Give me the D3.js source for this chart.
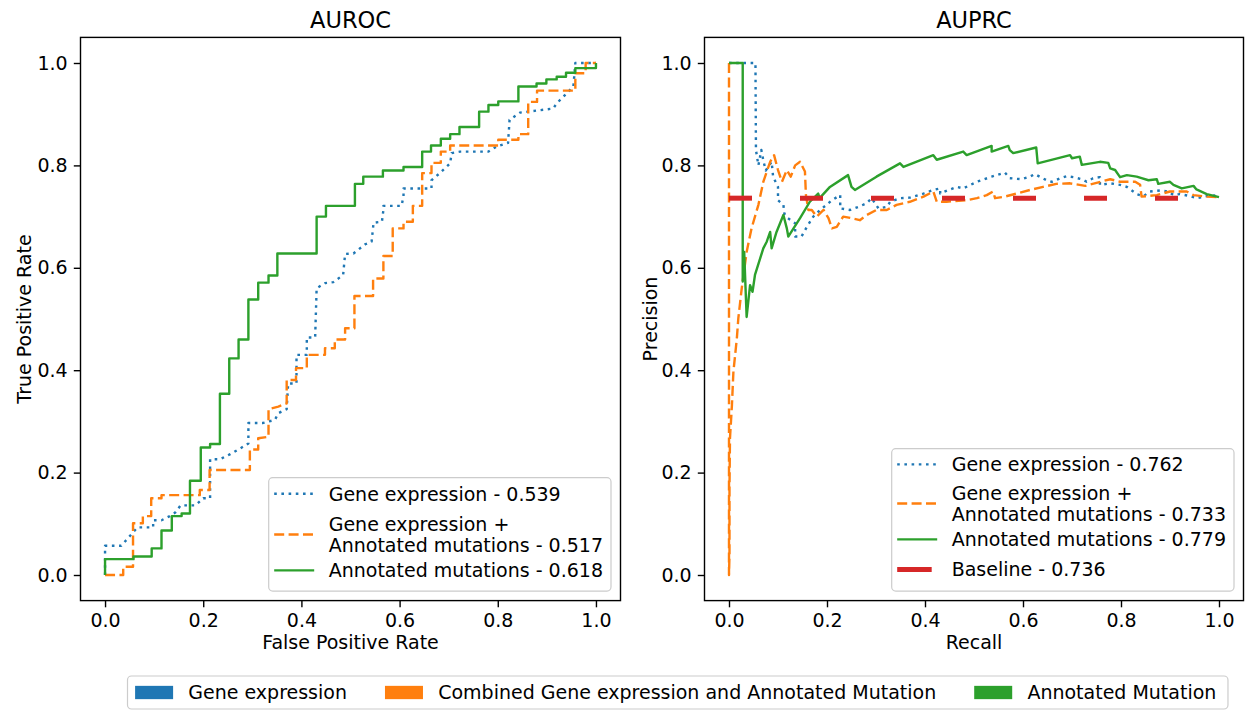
<!DOCTYPE html>
<html>
<head>
<meta charset="utf-8">
<script src="https://cdn.jsdelivr.net/npm/d3@7/dist/d3.min.js"></script>
<style>
  html, body { margin: 0; padding: 0; background: #ffffff; }
  svg { display: block; font-family: "DejaVu Sans", sans-serif; }
</style>
</head>
<body>
<svg id="chart" width="1247" height="711"></svg>
<script>
// ---- ROC curves: [false positive rate, true positive rate] ----
const rocGene = [
  [0,0],[0,0.057],[0.033,0.057],[0.066,0.093],[0.098,0.093],[0.098,0.107],[0.115,0.107],
  [0.132,0.115],[0.143,0.122],[0.154,0.136],[0.184,0.136],[0.2,0.15],[0.214,0.15],[0.214,0.226],
  [0.234,0.226],[0.255,0.236],[0.275,0.247],[0.292,0.257],[0.292,0.297],[0.322,0.297],
  [0.346,0.303],[0.353,0.316],[0.37,0.324],[0.373,0.374],[0.39,0.374],[0.39,0.43],[0.411,0.43],
  [0.411,0.464],[0.428,0.464],[0.431,0.56],[0.448,0.57],[0.465,0.572],[0.485,0.586],[0.489,0.627],
  [0.506,0.628],[0.53,0.646],[0.543,0.651],[0.547,0.688],[0.564,0.69],[0.567,0.713],[0.567,0.721],
  [0.604,0.721],[0.608,0.74],[0.608,0.755],[0.665,0.755],[0.665,0.771],[0.682,0.785],[0.703,0.804],
  [0.706,0.824],[0.723,0.827],[0.781,0.827],[0.798,0.837],[0.821,0.844],[0.824,0.889],[0.845,0.903],
  [0.913,0.911],[0.92,0.921],[0.954,0.954],[0.958,1.0],[1.0,1.0]
];
const rocCombined = [
  [0,0],[0.037,0],[0.037,0.016],[0.057,0.016],[0.057,0.101],[0.077,0.101],[0.077,0.115],
  [0.094,0.115],[0.094,0.15],[0.115,0.15],[0.115,0.156],[0.193,0.156],[0.193,0.166],[0.213,0.166],
  [0.213,0.205],[0.295,0.205],[0.295,0.245],[0.312,0.245],[0.312,0.267],[0.333,0.27],[0.333,0.324],
  [0.353,0.329],[0.37,0.335],[0.37,0.381],[0.389,0.381],[0.389,0.404],[0.411,0.404],[0.411,0.43],
  [0.448,0.43],[0.448,0.443],[0.468,0.443],[0.468,0.46],[0.489,0.46],[0.489,0.482],[0.508,0.482],
  [0.508,0.545],[0.546,0.545],[0.546,0.579],[0.567,0.579],[0.567,0.623],[0.586,0.623],[0.586,0.677],
  [0.608,0.677],[0.608,0.69],[0.627,0.69],[0.627,0.721],[0.646,0.721],[0.646,0.785],[0.665,0.785],
  [0.665,0.805],[0.684,0.805],[0.684,0.827],[0.703,0.827],[0.703,0.839],[0.801,0.839],[0.801,0.85],
  [0.842,0.85],[0.842,0.861],[0.862,0.861],[0.862,0.924],[0.88,0.924],[0.88,0.946],[0.958,0.946],
  [0.958,0.98],[0.979,0.98],[0.979,1.0],[1.0,1.0]
];
const rocMutation = [
  [0,0],[0,0.031],[0.058,0.031],[0.058,0.036],[0.095,0.036],[0.095,0.052],[0.115,0.052],
  [0.115,0.087],[0.136,0.087],[0.136,0.115],[0.156,0.115],[0.156,0.12],[0.173,0.12],[0.173,0.184],
  [0.195,0.184],[0.195,0.249],[0.214,0.249],[0.214,0.256],[0.234,0.256],[0.234,0.354],[0.253,0.354],
  [0.253,0.423],[0.272,0.423],[0.272,0.46],[0.292,0.46],[0.292,0.538],[0.312,0.538],[0.312,0.571],
  [0.333,0.571],[0.333,0.585],[0.351,0.585],[0.351,0.628],[0.431,0.628],[0.431,0.70],[0.45,0.70],
  [0.45,0.721],[0.509,0.721],[0.509,0.764],[0.526,0.764],[0.526,0.778],[0.566,0.778],[0.566,0.79],
  [0.608,0.79],[0.608,0.797],[0.646,0.797],[0.646,0.827],[0.664,0.827],[0.664,0.839],[0.684,0.839],
  [0.684,0.852],[0.703,0.852],[0.703,0.861],[0.722,0.861],[0.722,0.875],[0.762,0.875],[0.762,0.905],
  [0.781,0.905],[0.781,0.918],[0.801,0.918],[0.801,0.925],[0.842,0.925],[0.842,0.954],[0.879,0.954],
  [0.879,0.96],[0.899,0.96],[0.899,0.968],[0.92,0.968],[0.92,0.973],[0.939,0.973],[0.939,0.981],
  [0.958,0.981],[0.958,0.99],[1.0,0.99],[1.0,1.0]
];

// ---- Precision-recall curves: [recall, precision] ----
const prGene = [
  [0,1],[0.054,1],[0.055,0.83],[0.06,0.80],[0.066,0.83],[0.07,0.81],[0.075,0.79],[0.087,0.807],
  [0.09,0.778],[0.1,0.758],[0.1,0.732],[0.111,0.723],[0.113,0.706],[0.12,0.697],[0.135,0.687],
  [0.135,0.661],[0.148,0.661],[0.159,0.68],[0.172,0.70],[0.186,0.713],[0.199,0.723],[0.21,0.732],
  [0.227,0.742],[0.227,0.716],[0.247,0.713],[0.264,0.719],[0.281,0.726],[0.291,0.736],[0.305,0.716],
  [0.322,0.719],[0.329,0.729],[0.349,0.736],[0.369,0.737],[0.397,0.745],[0.417,0.752],[0.431,0.755],
  [0.431,0.745],[0.448,0.752],[0.465,0.758],[0.478,0.755],[0.506,0.768],[0.536,0.778],[0.563,0.786],
  [0.573,0.775],[0.597,0.773],[0.614,0.778],[0.624,0.783],[0.648,0.771],[0.659,0.768],[0.676,0.775],
  [0.689,0.779],[0.703,0.777],[0.72,0.773],[0.73,0.768],[0.743,0.775],[0.757,0.777],[0.757,0.762],
  [0.778,0.765],[0.798,0.762],[0.812,0.758],[0.825,0.749],[0.832,0.744],[0.846,0.74],[0.859,0.749],
  [0.88,0.751],[0.897,0.749],[0.907,0.742],[0.92,0.744],[0.941,0.74],[0.954,0.736],[0.975,0.74],
  [1.0,0.742]
];
const prCombined = [
  [0,1],[0,0],[0.001,0.04],[0.001,0.1],[0.001,0.17],[0.002,0.267],[0.006,0.332],[0.009,0.397],
  [0.016,0.462],[0.019,0.501],[0.026,0.56],[0.036,0.631],[0.046,0.677],[0.06,0.723],[0.07,0.768],
  [0.084,0.807],[0.092,0.82],[0.1,0.791],[0.108,0.768],[0.118,0.791],[0.126,0.778],[0.135,0.80],
  [0.145,0.807],[0.155,0.788],[0.157,0.742],[0.162,0.713],[0.169,0.713],[0.179,0.70],[0.193,0.713],
  [0.203,0.697],[0.21,0.677],[0.22,0.68],[0.233,0.70],[0.25,0.697],[0.267,0.693],[0.281,0.703],
  [0.301,0.713],[0.322,0.713],[0.342,0.723],[0.369,0.729],[0.397,0.739],[0.417,0.749],[0.424,0.729],
  [0.444,0.729],[0.485,0.732],[0.506,0.736],[0.526,0.742],[0.539,0.749],[0.543,0.736],[0.563,0.739],
  [0.587,0.745],[0.614,0.752],[0.641,0.758],[0.668,0.764],[0.696,0.765],[0.727,0.76],[0.75,0.766],
  [0.778,0.773],[0.798,0.768],[0.829,0.768],[0.839,0.762],[0.842,0.739],[0.873,0.742],[0.9,0.749],
  [0.934,0.749],[0.948,0.742],[0.975,0.739],[1.0,0.738]
];
const prMutation = [
  [0,1],[0.028,1],[0.028,0.573],[0.031,0.631],[0.036,0.504],[0.043,0.566],[0.048,0.553],
  [0.053,0.586],[0.07,0.638],[0.077,0.651],[0.084,0.67],[0.087,0.638],[0.097,0.67],[0.111,0.703],
  [0.118,0.677],[0.121,0.661],[0.145,0.697],[0.165,0.729],[0.182,0.745],[0.185,0.736],[0.206,0.758],
  [0.243,0.781],[0.25,0.758],[0.257,0.752],[0.301,0.778],[0.349,0.804],[0.356,0.797],[0.417,0.82],
  [0.424,0.811],[0.478,0.827],[0.485,0.82],[0.536,0.838],[0.536,0.827],[0.57,0.838],[0.573,0.83],
  [0.58,0.824],[0.627,0.835],[0.63,0.804],[0.696,0.82],[0.70,0.814],[0.716,0.817],[0.72,0.801],
  [0.757,0.807],[0.774,0.805],[0.778,0.794],[0.788,0.791],[0.798,0.777],[0.812,0.781],[0.832,0.778],
  [0.842,0.775],[0.856,0.771],[0.873,0.773],[0.876,0.764],[0.9,0.768],[0.907,0.762],[0.924,0.755],
  [0.948,0.76],[0.954,0.753],[0.975,0.744],[1.0,0.738]
];
const baselinePrecision = 0.736;

// ---- labels ----
const ticks = [0, 0.2, 0.4, 0.6, 0.8, 1.0];
const rocLabels = ["Gene expression - 0.539", ["Gene expression +", "Annotated mutations - 0.517"], "Annotated mutations - 0.618"];
const prLabels = ["Gene expression - 0.762", ["Gene expression +", "Annotated mutations - 0.733"], "Annotated mutations - 0.779", "Baseline - 0.736"];
const figLegendLabels = ["Gene expression", "Combined Gene expression and Annotated Mutation", "Annotated Mutation"];

// ---- styling ----
const C = { blue: "#1f77b4", orange: "#ff7f0e", green: "#2ca02c", red: "#d62728" };
const LW = 2.4;
const styles = {
  gene:     { color: C.blue,   dash: "2.6,4.6",  width: LW },
  combined: { color: C.orange, dash: "10,4.4",   width: LW },
  mutation: { color: C.green,  dash: null,       width: LW },
  baseline: { color: C.red,    dash: "23,48",    width: 5 }
};
const FS = 19;       // base text size
const TITLE_FS = 22.5;

const svg = d3.select("#chart");
svg.append("rect").attr("width", 1247).attr("height", 711).attr("fill", "#fff");

const panelTop = 37.4, panelBottom = 600.6;
const panels = [
  { left: 80.5, right: 620.5, title: "AUROC", xlab: "False Positive Rate", ylab: "True Positive Rate", ylabX: 24 },
  { left: 704.5, right: 1243.5, title: "AUPRC", xlab: "Recall", ylab: "Precision", ylabX: 650 }
];

function buildPanel(p) {
  const x = d3.scaleLinear().domain([-0.05, 1.05]).range([p.left, p.right]);
  const y = d3.scaleLinear().domain([-0.05, 1.05]).range([panelBottom, panelTop]);
  const g = svg.append("g");

  const xAxis = d3.axisBottom(x).tickValues(ticks).tickFormat(d3.format(".1f"))
    .tickSizeOuter(0).tickSize(6.7).tickPadding(6.2);
  const yAxis = d3.axisLeft(y).tickValues(ticks).tickFormat(d3.format(".1f"))
    .tickSizeOuter(0).tickSize(6.7).tickPadding(6.2);

  const gx = g.append("g").attr("transform", `translate(0,${panelBottom})`).call(xAxis);
  const gy = g.append("g").attr("transform", `translate(${p.left},0)`).call(yAxis);
  [gx, gy].forEach(a => {
    a.select(".domain").remove();
    a.selectAll(".tick line").attr("stroke", "#000").attr("stroke-width", 1.4);
    a.selectAll(".tick text").attr("fill", "#000").style("font-size", FS + "px")
      .style("font-family", "DejaVu Sans");
  });

  g.append("text").attr("x", (p.left + p.right) / 2).attr("y", 28)
    .attr("text-anchor", "middle").style("font-size", TITLE_FS + "px").attr("fill", "#000").text(p.title);
  g.append("text").attr("x", (p.left + p.right) / 2).attr("y", 649)
    .attr("text-anchor", "middle").style("font-size", FS + "px").attr("fill", "#000").text(p.xlab);
  g.append("text").attr("transform", `translate(${p.ylabX},${(panelTop + panelBottom) / 2}) rotate(-90)`)
    .attr("text-anchor", "middle").attr("dy", "0.35em").style("font-size", FS + "px").attr("fill", "#000").text(p.ylab);

  return { g, x, y };
}

function drawCurve(ctx, data, st) {
  const line = d3.line().x(d => ctx.x(d[0])).y(d => ctx.y(d[1]));
  const path = ctx.g.append("path").datum(data).attr("d", line)
    .attr("fill", "none").attr("stroke", st.color).attr("stroke-width", st.width)
    .attr("stroke-linejoin", "round").attr("stroke-linecap", "butt");
  if (st.dash) path.attr("stroke-dasharray", st.dash);
}

function frame(ctx, p) {
  ctx.g.append("rect").attr("x", p.left).attr("y", panelTop)
    .attr("width", p.right - p.left).attr("height", panelBottom - panelTop)
    .attr("fill", "none").attr("stroke", "#000").attr("stroke-width", 1.4);
}

// Legend in the lower right corner of an axes
function axesLegend(ctx, p, entries, rowOffsets, boxHeight) {
  const lg = ctx.g.append("g");
  const box = lg.append("rect").attr("fill", "#fff").attr("fill-opacity", 0.8)
    .attr("stroke", "#cccccc").attr("stroke-width", 1.2).attr("rx", 4);
  const textGroup = lg.append("g");
  let maxW = 0;
  const rows = [];
  entries.forEach((e, i) => {
    const lines = Array.isArray(e.label) ? e.label : [e.label];
    const t = textGroup.append("text").style("font-size", FS + "px").attr("fill", "#000");
    lines.forEach(l => {
      const ts = t.append("tspan").text(l);
      maxW = Math.max(maxW, ts.node().getComputedTextLength());
    });
    rows.push({ t, lines, e, i });
  });
  const right = p.right - 9.5;
  const bottom = panelBottom - 9.5;
  const width = 60 + maxW + 8;
  const left = right - width;
  const top = bottom - boxHeight;
  box.attr("x", left).attr("y", top).attr("width", width).attr("height", boxHeight);
  rows.forEach(r => {
    const offs = rowOffsets[r.i];
    r.t.selectAll("tspan").each(function (d, k) {
      d3.select(this).attr("x", left + 60).attr("y", top + offs[k]).attr("dy", "0.36em");
    });
    const hy = top + d3.mean(offs);
    const isBase = r.e.style === styles.baseline;
    const h = lg.append("line").attr("x1", left + 5.5).attr("x2", isBase ? left + 40 : left + 45.5)
      .attr("y1", hy).attr("y2", hy)
      .attr("stroke", r.e.style.color).attr("stroke-width", r.e.style.width);
    if (!isBase && r.e.style.dash) h.attr("stroke-dasharray", r.e.style.dash);
  });
}

// ---- ROC panel ----
const roc = buildPanel(panels[0]);
drawCurve(roc, rocGene, styles.gene);
drawCurve(roc, rocCombined, styles.combined);
drawCurve(roc, rocMutation, styles.mutation);
frame(roc, panels[0]);
axesLegend(roc, panels[0], [
  { label: rocLabels[0], style: styles.gene },
  { label: rocLabels[1], style: styles.combined },
  { label: rocLabels[2], style: styles.mutation }
], [[16], [46, 67.7], [92.7]], 113.4);

// ---- PR panel ----
const pr = buildPanel(panels[1]);
drawCurve(pr, prGene, styles.gene);
drawCurve(pr, prCombined, styles.combined);
drawCurve(pr, prMutation, styles.mutation);
drawCurve(pr, [[0, baselinePrecision], [1, baselinePrecision]], styles.baseline);
frame(pr, panels[1]);
axesLegend(pr, panels[1], [
  { label: prLabels[0], style: styles.gene },
  { label: prLabels[1], style: styles.combined },
  { label: prLabels[2], style: styles.mutation },
  { label: prLabels[3], style: styles.baseline }
], [[15.7], [44, 65.7], [90.7], [120.7]], 142.4);

// ---- figure legend along the bottom ----
(function () {
  const colors = [C.blue, C.orange, C.green];
  const lg = svg.append("g");
  const box = lg.append("rect").attr("fill", "#fff").attr("stroke", "#cccccc")
    .attr("stroke-width", 1.2).attr("rx", 4);
  const pad = 0.4 * FS, handle = 2 * FS, textPad = 0.8 * FS, colGap = 2 * FS;
  const cy = 692.5;
  const items = figLegendLabels.map((l, i) => {
    const t = lg.append("text").style("font-size", FS + "px").attr("fill", "#000")
      .attr("dy", "0.36em").attr("y", cy).text(l);
    return { t, w: t.node().getComputedTextLength(), c: colors[i] };
  });
  const total = 2 * pad + items.reduce((s, it) => s + handle + textPad + it.w, 0) + colGap * (items.length - 1);
  const left = 127.5;
  let cx = left + pad;
  items.forEach(it => {
    lg.append("rect").attr("x", cx).attr("y", cy - 0.35 * FS).attr("width", handle)
      .attr("height", 0.7 * FS).attr("fill", it.c);
    it.t.attr("x", cx + handle + textPad);
    cx += handle + textPad + it.w + colGap;
  });
  box.attr("x", left).attr("y", 676).attr("width", total + 4).attr("height", 33);
})();
</script>
</body>
</html>
